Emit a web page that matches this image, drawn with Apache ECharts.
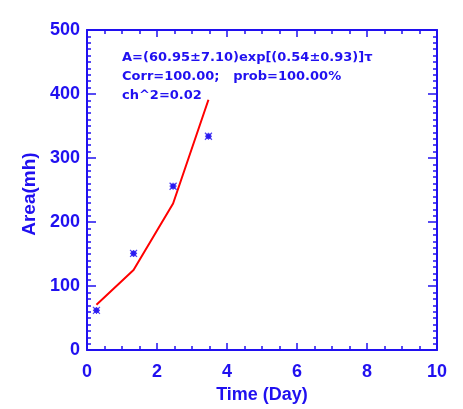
<!DOCTYPE html>
<html><head><meta charset="utf-8">
<script src="https://cdn.jsdelivr.net/npm/echarts@6/dist/echarts.min.js"></script>
<style>html,body{margin:0;padding:0;background:#fff}#c{width:463px;height:409px}</style>
</head><body><div id="c"></div>
<script>
const timeDays = [0.27, 1.33, 2.46, 3.47];
const areaObs = [62, 151, 256, 334];
const areaFit = [71, 125, 229, 391];
const xTicks = [0, 2, 4, 6, 8, 10];
const yTicks = [0, 100, 200, 300, 400, 500];
const annot = ['A=(60.95\u00b17.10)exp[(0.54\u00b10.93)]\u03c4', 'Corr=100.00;   prob=100.00%', 'ch^2=0.02'];

const BLUE = '#2010f0';
const FONT = 'Liberation Sans';
const chart = echarts.init(document.getElementById('c'), null, {renderer: 'canvas'});
function xAx(pos, show) {
  return {type: 'value', position: pos, min: xTicks[0], max: xTicks[xTicks.length-1], interval: 2,
    name: show ? 'Time (Day)' : '', nameLocation: 'middle', nameGap: 35,
    nameTextStyle: {color: BLUE, fontFamily: FONT, fontSize: 18, fontWeight: 'bold'},
    axisLine: {show: true, onZero: false, lineStyle: {color: BLUE, width: 2}},
    axisTick: {show: true, inside: true, length: 7, lineStyle: {color: BLUE, width: 1.5}},
    minorTick: {show: true, splitNumber: 4, length: 4, lineStyle: {color: BLUE, width: 1.5}},
    axisLabel: {show: show, color: BLUE, fontFamily: FONT, fontSize: 18, fontWeight: 'bold', margin: 13},
    splitLine: {show: false}};
}
function yAx(pos, show) {
  return {type: 'value', position: pos, min: yTicks[0], max: yTicks[yTicks.length-1], interval: 100,
    name: show ? 'Area(mh)' : '', nameLocation: 'middle', nameGap: 48,
    nameTextStyle: {color: BLUE, fontFamily: FONT, fontSize: 19, fontWeight: 'bold', padding: [0, 8, 0, 0]},
    axisLine: {show: true, onZero: false, lineStyle: {color: BLUE, width: 2}},
    axisTick: {show: true, inside: true, length: 9, lineStyle: {color: BLUE, width: 1.5}},
    minorTick: {show: true, splitNumber: 10, length: 4, lineStyle: {color: BLUE, width: 1.5}},
    axisLabel: {show: show, color: BLUE, fontFamily: FONT, fontSize: 18, fontWeight: 'bold', margin: 7},
    splitLine: {show: false}};
}
chart.setOption({
  animation: false,
  grid: {left: 87, right: 26, top: 30, bottom: 57},
  xAxis: [xAx('bottom', true), xAx('top', false)],
  yAxis: [yAx('left', true), yAx('right', false)],
  graphic: annot.map((t, i) => ({type: 'text', left: 122, top: 51 + i * 19,
    style: {text: t, fill: BLUE, font: 'bold 13px "DejaVu Sans"'}})),
  series: [
    {type: 'line', data: timeDays.map((t, i) => [t, areaFit[i]]), showSymbol: false, symbol: 'none',
     lineStyle: {color: '#ff0000', width: 2}, z: 2},
    {type: 'scatter', data: timeDays.map((t, i) => [t, areaObs[i]]),
     symbol: 'path://M0,0L10,10M10,0L0,10M5,0L5,10M0,5L10,5M2,2L8,2L8,8L2,8Z', symbolSize: 7,
     itemStyle: {color: BLUE, borderColor: BLUE, borderWidth: 1.2}, z: 3}
  ]
});
</script></body></html>
